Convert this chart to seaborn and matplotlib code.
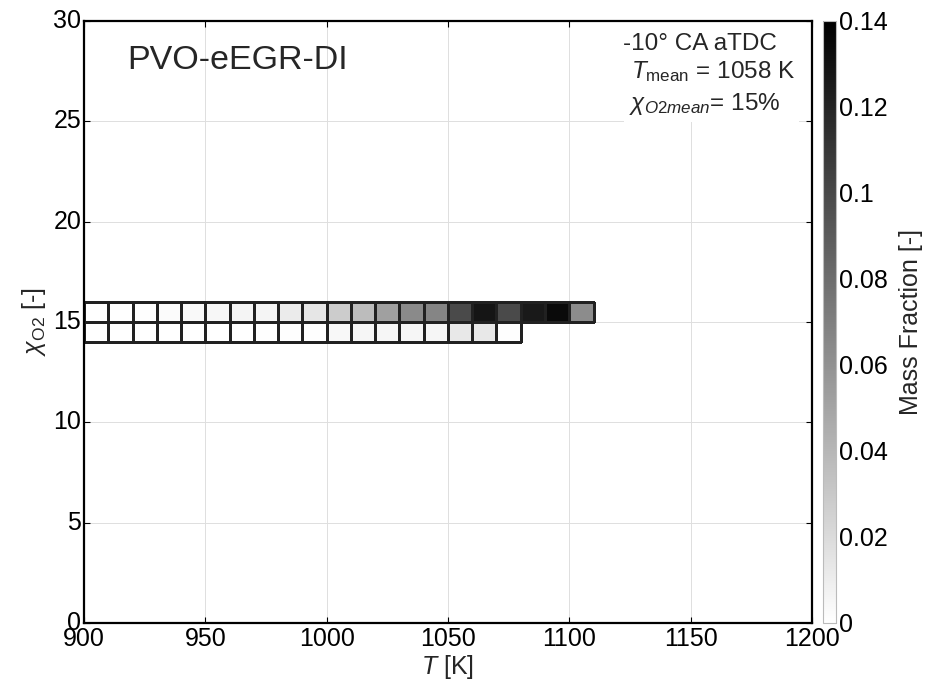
import numpy as np
import pandas as pd
import matplotlib
matplotlib.use("Agg")
import matplotlib.pyplot as plt
from matplotlib.patches import Rectangle
import seaborn as sns

# Temperature bins (lower edges, K) and O2 bins (lower edges, %)
t_lower = [900, 910, 920, 930, 940, 950, 960, 970, 980, 990, 1000,
           1010, 1020, 1030, 1040, 1050, 1060, 1070, 1080, 1090, 1100]
# Mass fraction in the 15-16 % O2 bin
frac_o2_15 = [0.0004, 0.0005, 0.0008, 0.0025, 0.0035, 0.0045, 0.0065, 0.0065,
              0.011, 0.014, 0.028, 0.037, 0.052, 0.064, 0.067, 0.099,
              0.128, 0.099, 0.126, 0.134, 0.063]
# Mass fraction in the 14-15 % O2 bin
frac_o2_14 = [0.0003, 0.0003, 0.0004, 0.0004, 0.0005, 0.0005, 0.0005, 0.0006,
              0.0007, 0.0008, 0.004, 0.005, 0.005, 0.005, 0.005, 0.013,
              0.013, 0.0006]

x_ticks = [900, 950, 1000, 1050, 1100, 1150, 1200]
y_ticks = [0, 5, 10, 15, 20, 25, 30]
cbar_ticks = [0, 0.02, 0.04, 0.06, 0.08, 0.1, 0.12, 0.14]

T_MIN, T_MAX, T_STEP = 900, 1200, 10
X_MIN, X_MAX = 0, 30

# Full histogram grid (rows: O2 bins, cols: T bins); empty bins stay NaN
t_bins = np.arange(T_MIN, T_MAX, T_STEP)
o2_bins = np.arange(X_MIN, X_MAX)
grid = pd.DataFrame(np.nan, index=o2_bins, columns=t_bins)
for t, v in zip(t_lower, frac_o2_15):
    grid.loc[15, t] = v
for t, v in zip(t_lower[:len(frac_o2_14)], frac_o2_14):
    grid.loc[14, t] = v

sns.set_theme(style="white")
plt.rcParams["font.family"] = ["Liberation Sans", "DejaVu Sans"]
plt.rcParams["mathtext.fontset"] = "custom"
plt.rcParams["mathtext.rm"] = "Liberation Sans"
plt.rcParams["mathtext.it"] = "Liberation Sans:italic"
plt.rcParams["mathtext.bf"] = "Liberation Sans:bold"

fig = plt.figure(figsize=(9.3, 6.88), dpi=100)
ax = fig.add_axes([0.0903, 0.0945, 0.7827, 0.875])
cax = fig.add_axes([0.8845, 0.0945, 0.0145, 0.875])

sns.heatmap(grid, ax=ax, cbar_ax=cax, cmap="gray_r", vmin=0, vmax=0.14,
            linewidths=0.75, linecolor="#222222", square=False,
            cbar_kws={"ticks": cbar_ticks})

# Outline only the populated bins: empty bins get transparent edges
mesh = ax.collections[0]
filled = ~np.isnan(grid.to_numpy()).ravel()
edge_rgba = np.zeros((filled.size, 4))
edge_rgba[filled] = (0.13, 0.13, 0.13, 1)
mesh.set_edgecolors(edge_rgba)

ax.set_xlim(0, len(t_bins))
ax.set_ylim(0, len(o2_bins))
ax.set_xticks([(t - T_MIN) / T_STEP for t in x_ticks])
ax.set_xticklabels([str(t) for t in x_ticks], rotation=0)
ax.set_yticks(y_ticks)
ax.set_yticklabels([str(y) for y in y_ticks], rotation=0)
ax.tick_params(axis="both", direction="in", length=4, width=0.8,
               labelsize=18, colors="black", pad=3)
ax.tick_params(axis="y", pad=2)
ax.tick_params(top=True, right=True, bottom=True, left=True)

ax.set_axisbelow(True)
ax.grid(True, color="#dedede", linewidth=0.7)
for s in ax.spines.values():
    s.set_visible(True)
    s.set_linewidth(1.6)
    s.set_color("black")

ax.set_xlabel(r"$T$ [K]", fontsize=18, labelpad=1)
ax.set_ylabel(r"$\chi_{\mathrm{O2}}$ [-]", fontsize=18, labelpad=4)

# White backing behind the operating-point annotation
ax.add_patch(Rectangle((0.742, 0.833), 0.24, 0.165, transform=ax.transAxes,
                       facecolor="white", edgecolor="none", zorder=2))
ax.text(0.06, 0.935, "PVO-eEGR-DI", transform=ax.transAxes, fontsize=24.5,
        ha="left", va="center", zorder=3)
fig.text(0.753, 0.927, "-10° CA aTDC", fontsize=17.5, ha="center",
         va="baseline", zorder=3)
fig.text(0.767, 0.887, r"$T_{\mathrm{mean}}$ = 1058 K", fontsize=17.5,
         ha="center", va="baseline", zorder=3)
fig.text(0.758, 0.840, r"$\chi_{O2mean}$= 15%", fontsize=17.5,
         ha="center", va="baseline", zorder=3)

cbar = mesh.colorbar
cbar.ax.set_yticklabels(["%g" % t for t in cbar_ticks])
cbar.ax.tick_params(labelsize=18, direction="in", length=3, width=0.6,
                    colors="black", pad=2)
cbar.outline.set_edgecolor("#bbbbbb")
cbar.outline.set_linewidth(0.8)
cbar.set_label("Mass Fraction [-]", fontsize=18, labelpad=8)

fig.savefig("out.png", dpi=100, facecolor="white")
